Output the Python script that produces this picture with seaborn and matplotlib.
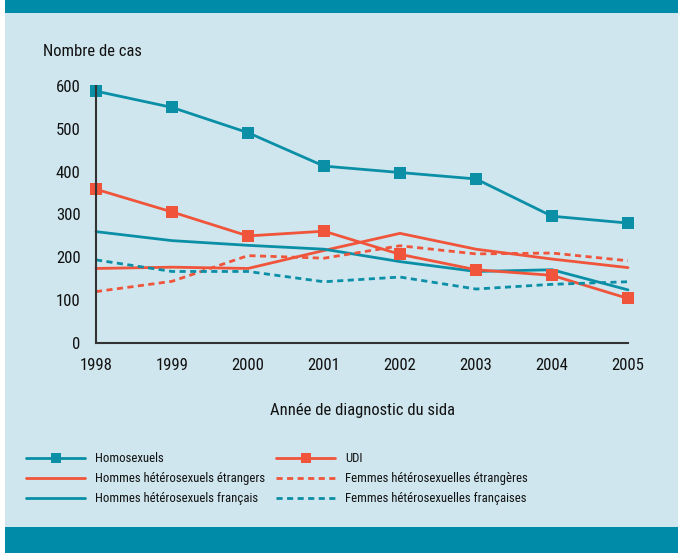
import os
import matplotlib
matplotlib.use("Agg")
import matplotlib.pyplot as plt
import seaborn as sns
import pandas as pd
from matplotlib.patches import Rectangle
from matplotlib import font_manager as fm
from matplotlib.backends.backend_agg import RendererAgg
from matplotlib.ft2font import FT2Font

years = [1998, 1999, 2000, 2001, 2002, 2003, 2004, 2005]
homosexuels = [588, 550, 491, 413, 398, 383, 296, 280]
udi = [359, 306, 250, 261, 207, 171, 158, 104]
hommes_etr = [174, 177, 174, 216, 256, 219, 196, 176]
hommes_fr = [260, 239, 228, 219, 190, 167, 171, 124]
femmes_etr = [120, 144, 204, 198, 227, 208, 210, 192]
femmes_fr = [194, 167, 167, 143, 154, 126, 137, 143]

labels = ["Homosexuels", "Hommes hétérosexuels étrangers", "Hommes hétérosexuels français",
          "UDI", "Femmes hétérosexuelles étrangères", "Femmes hétérosexuelles françaises"]
yticks = [0, 100, 200, 300, 400, 500, 600]
ylabel = "Nombre de cas"
xlabel = "Année de diagnostic du sida"

TEAL = "#0a8fa6"
RED = "#f0543a"
BG = "#cfe6ee"

sns.set_style("white")
plt.rcParams['font.family'] = ['Roboto', 'DejaVu Sans']

# ---- choose the narrowest installed regular sans font ----
_r = RendererAgg(200, 200, 100)


def text_w(s, path, size):
    prop = fm.FontProperties(fname=path, size=size)
    w, h, d = _r.get_text_width_height_descent(s, prop, ismath=False)
    return w


prefixes = ("NotoSans-", "NotoSans[", "DejaVuSans", "Liberation", "Roboto", "OpenSans", "Lato",
            "Inter")
cands = []
seen = set()
for f in fm.fontManager.ttflist:
    b = os.path.basename(f.fname)
    if b in seen or not b.startswith(prefixes):
        continue
    if "Mono" in b or "Serif" in b or f.style != "normal":
        continue
    if f.weight not in (400, "normal", "regular", "book"):
        continue
    try:
        cm = FT2Font(f.fname).get_charmap()
        if ord("é") not in cm or ord("ç") not in cm or ord("è") not in cm:
            continue
    except Exception:
        continue
    seen.add(b)
    cands.append(f.fname)

probe = "Hommes hétérosexuels étrangers"
font_path = None
if cands:
    font_path = min(cands, key=lambda p: text_w(probe, p, 10))


def fp_for(text, target_px, cap=14):
    if font_path is None:
        return fm.FontProperties(family=['Roboto', 'DejaVu Sans'], size=8.5)
    w = text_w(text, font_path, 10)
    size = min(cap, 10 * target_px / w)
    return fm.FontProperties(fname=font_path, size=size)


leg_fp = fp_for(probe, 168, cap=10.5)
lab_fp = fp_for(xlabel, 200, cap=12)
ytl_fp = fp_for("1998", 35, cap=12)

fig = plt.figure(figsize=(6.78, 5.53), dpi=100)
fig.patch.set_facecolor("white")
fig.patches.append(Rectangle((5/678, 0), 1 - 5/678, 1, transform=fig.transFigure,
                             facecolor=BG, edgecolor="none", zorder=-10))
fig.patches.append(Rectangle((5/678, 1 - 13/553), 1 - 5/678, 13/553, transform=fig.transFigure,
                             facecolor="#008ca8", edgecolor="none", zorder=-5))
fig.patches.append(Rectangle((5/678, 0), 1 - 5/678, 26/553, transform=fig.transFigure,
                             facecolor="#008ca8", edgecolor="none", zorder=-5))

ax = fig.add_axes([96/678, 1 - 343/553, (628 - 96)/678, (343 - 86)/553])
ax.set_facecolor("none")

series = [
    (homosexuels, TEAL, "-", "s"),
    (hommes_etr, RED, "-", None),
    (hommes_fr, TEAL, "-", None),
    (udi, RED, "-", "s"),
    (femmes_etr, RED, (0, (2.2, 1.6)), None),
    (femmes_fr, TEAL, (0, (2.2, 1.6)), None),
]
handles = []
for (vals, col, ls, mk), lab in zip(series, labels):
    df = pd.DataFrame({"year": years, "val": vals})
    sns.lineplot(data=df, x="year", y="val", ax=ax, color=col, linewidth=2.0,
                 linestyle=ls, marker=mk, markersize=9 if mk else 0,
                 markeredgewidth=0, label=lab, legend=False, clip_on=False)
    handles.append(ax.lines[-1])

ax.set_xlim(1998, 2005)
ax.set_ylim(0, 600)
ax.set_xticks(years)
ax.set_xticklabels([str(y) for y in years], fontproperties=ytl_fp)
ax.set_yticks(yticks)
ax.set_yticklabels([str(v) for v in yticks], fontproperties=ytl_fp)
for s in ["top", "right"]:
    ax.spines[s].set_visible(False)
for s in ["left", "bottom"]:
    ax.spines[s].set_color("#333333")
    ax.spines[s].set_linewidth(1.5)
ax.tick_params(axis="both", direction="out", length=7, width=1.5, color="#333333",
               labelcolor="#111111", pad=4)
ax.set_xlabel("")
ax.set_ylabel("")

fig.text(43/678, 1 - 52/553, ylabel, fontproperties=lab_fp, va="center", ha="left",
         color="#111111")
fig.text(362/678, 1 - 410/553, xlabel, fontproperties=lab_fp,
         va="center", ha="center", color="#111111")

em = leg_fp.get_size() * 100 / 72
common = dict(frameon=False, loc="upper left", prop=leg_fp, handlelength=59 / em,
              handletextpad=10 / em, labelspacing=7 / em, markerscale=0.85,
              borderaxespad=0, borderpad=0)
leg1 = fig.legend(handles=handles[:3], labels=labels[:3],
                  bbox_to_anchor=(26/678, 1 - 452/553), **common)
leg2 = fig.legend(handles=handles[3:], labels=labels[3:],
                  bbox_to_anchor=(276/678, 1 - 452/553), **common)
for leg in (leg1, leg2):
    for t in leg.get_texts():
        t.set_color("#111111")

fig.savefig("out.png", dpi=100, facecolor=fig.get_facecolor())
